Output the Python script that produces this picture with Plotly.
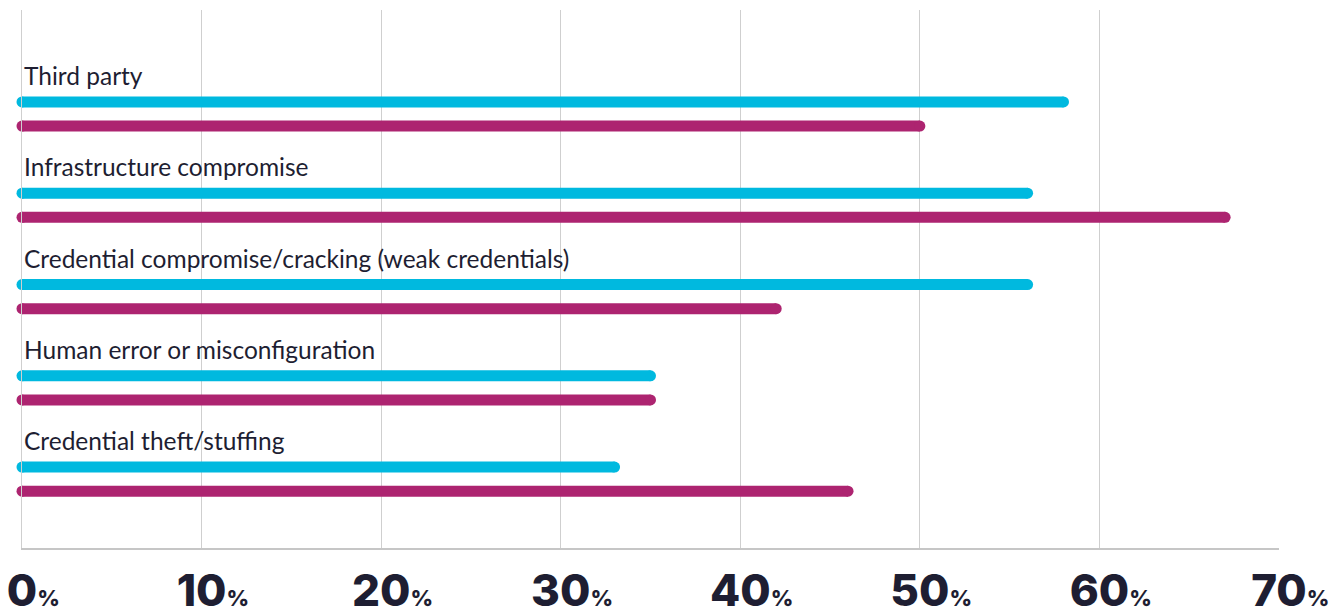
import plotly.graph_objects as go

# Breach causes, listed top to bottom
categories = [
    "Third party",
    "Infrastructure compromise",
    "Credential compromise/cracking (weak credentials)",
    "Human error or misconfiguration",
    "Credential theft/stuffing",
]
group_a = [58, 56, 56, 35, 33]   # cyan bars
group_b = [50, 67, 42, 35, 46]   # magenta bars

tick_values = [0, 10, 20, 30, 40, 50, 60, 70]

CYAN = "#00B9DF"
MAGENTA = "#AD2470"
INK = "#1E1E32"
GRID = "#CFCFCF"
BAR_W = 11
OFFSET = 0.132      # vertical offset of each bar from the category centre
LABEL_OFFSET = 0.42 # category label sits above the cyan bar

fig = go.Figure()

for i, cat in enumerate(categories):
    for vals, color, sign, name in ((group_a, CYAN, -1, "Group A"), (group_b, MAGENTA, 1, "Group B")):
        y = i + sign * OFFSET
        fig.add_trace(go.Scatter(
            x=[0, vals[i]], y=[y, y],
            mode="lines+markers",
            line=dict(color=color, width=BAR_W),
            marker=dict(color=color, size=BAR_W, line=dict(width=0)),
            cliponaxis=False,
            name=name, showlegend=False, hoverinfo="x+name",
        ))
    fig.add_annotation(
        x=0, y=i - LABEL_OFFSET, xref="x", yref="y",
        text=cat, showarrow=False, xanchor="left", yanchor="middle",
        xshift=0, font=dict(family="Lato", size=24.5, color=INK),
    )

# an invisible "%" in front keeps the digits centred on each gridline
ghost = "<span style='font-size:22px;color:rgba(0,0,0,0)'>%</span>"
tick_text = [f"{ghost}{v}<span style='font-size:22px'>%</span>" for v in tick_values]

fig.update_layout(
    width=1340, height=614,
    margin=dict(l=22, r=61, t=10, b=66, autoexpand=False),
    paper_bgcolor="white", plot_bgcolor="white",
    showlegend=False,
    xaxis=dict(
        range=[0, 70], tickvals=tick_values, ticktext=tick_text,
        showgrid=True, gridcolor=GRID, gridwidth=1,
        zeroline=False, showline=True, linecolor="#C6C6C6", linewidth=2,
        ticks="", ticklabelstandoff=3, ticklabeloverflow="allow",
        automargin=False,
        tickfont=dict(family="Inter", size=44, color=INK, weight=800),
    ),
    yaxis=dict(
        range=[4.754, -1.139], showgrid=False, zeroline=False,
        showline=True, linecolor=GRID, linewidth=1,
        showticklabels=False, ticks="", automargin=False,
    ),
)

fig.write_html("out.html")
